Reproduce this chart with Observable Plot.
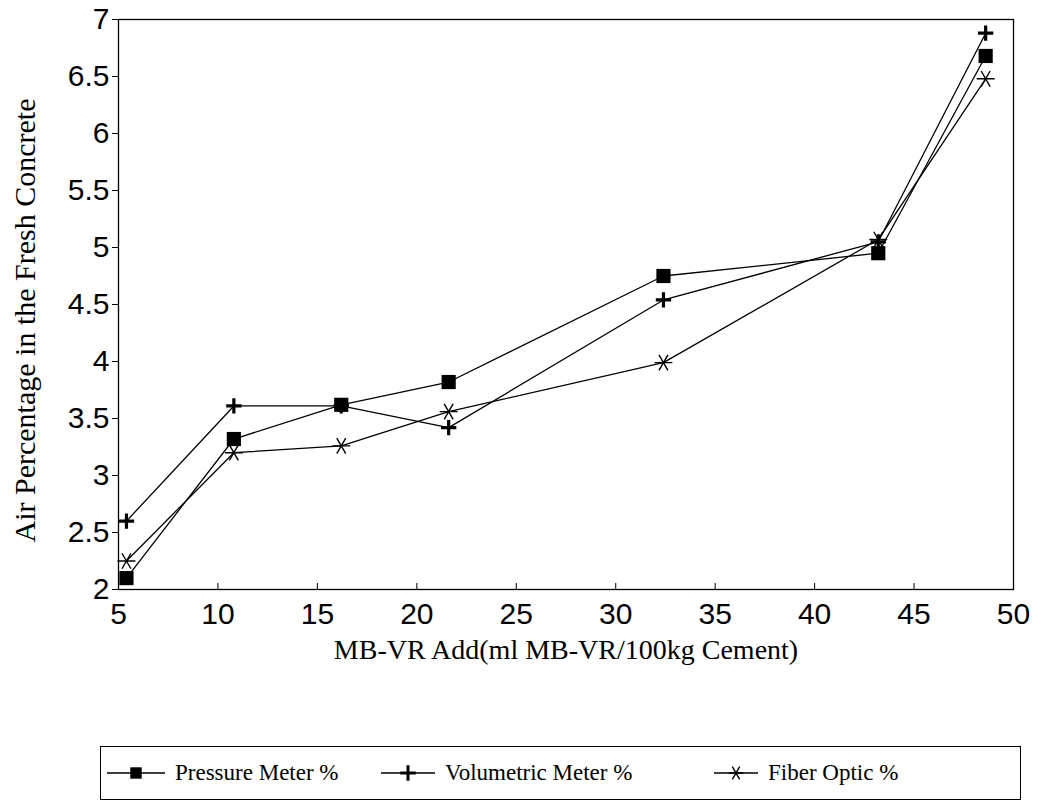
<!DOCTYPE html>
<html>
<head>
<meta charset="utf-8">
<script src="https://cdn.jsdelivr.net/npm/d3@7"></script>
<script src="https://cdn.jsdelivr.net/npm/@observablehq/plot@0.6"></script>
<style>
  html, body { margin: 0; padding: 0; background: #fff; }
  #wrap { position: relative; width: 1039px; height: 805px; overflow: hidden; }
  #legend { position: absolute; left: 100px; top: 746px; width: 921px; height: 54px;
    border: 1.2px solid #000; box-sizing: border-box; font-family: "Liberation Serif", serif;
    font-size: 23px; color: #000; }
  .item { position: absolute; top: 0; height: 100%; display: flex; align-items: center; }
  .item svg { margin-right: 10px; }
</style>
</head>
<body>
<div id="wrap"><div id="chart"></div><div id="legend"></div></div>
<script>
const xValues = [5.4, 10.8, 16.2, 21.6, 32.4, 43.2, 48.6];
const pressure = [2.1, 3.32, 3.62, 3.82, 4.75, 4.95, 6.68];
const volumetric = [2.6, 3.61, 3.61, 3.42, 4.54, 5.05, 6.88];
const fiber = [2.25, 3.2, 3.26, 3.56, 3.99, 5.07, 6.48];
const seriesNames = ["Pressure Meter %", "Volumetric Meter %", "Fiber Optic %"];
const xTicks = [5, 10, 15, 20, 25, 30, 35, 40, 45, 50];
const yTicks = [2, 2.5, 3, 3.5, 4, 4.5, 5, 5.5, 6, 6.5, 7];
const xTitle = "MB-VR Add(ml MB-VR/100kg Cement)";
const yTitle = "Air Percentage in the Fresh Concrete";

const rows = (vals, s) => xValues.map((x, i) => ({x, y: vals[i], s}));
const P = rows(pressure, seriesNames[0]);
const V = rows(volumetric, seriesNames[1]);
const F = rows(fiber, seriesNames[2]);

const sans = "Liberation Sans, Arial, sans-serif";
const serif = "Liberation Serif, Times New Roman, serif";

const chart = Plot.plot({
  width: 1039,
  height: 690,
  marginLeft: 118,
  marginRight: 26,
  marginTop: 19,
  marginBottom: 101,
  x: {domain: [5, 50]},
  y: {domain: [2, 7]},
  style: {background: "#fff", color: "#000"},
  marks: [
    Plot.frame({stroke: "#000", strokeWidth: 1.3}),
    Plot.axisY({ticks: yTicks, tickSize: 6, tickPadding: 3, fontSize: 30, fontFamily: sans, label: null, tickFormat: d => String(d)}),
    Plot.axisX({ticks: xTicks, tickSize: -6, tickFormat: () => "", label: null}),
    Plot.axisX({ticks: xTicks, tickSize: 0, tickPadding: 13, fontSize: 30, fontFamily: sans, label: null, tickFormat: d => String(d)}),
    Plot.text([xTitle], {frameAnchor: "bottom", dy: 61, lineAnchor: "middle", textAnchor: "middle", fontSize: 28, fontFamily: serif, fill: "#000"}),
    Plot.text([yTitle], {frameAnchor: "left", dx: -93, dy: 16, rotate: -90, textAnchor: "middle", lineAnchor: "middle", fontSize: 30, fontFamily: serif, fill: "#000"}),
    Plot.line(P, {x: "x", y: "y", stroke: "#000", strokeWidth: 1.3}),
    Plot.line(V, {x: "x", y: "y", stroke: "#000", strokeWidth: 1.3}),
    Plot.line(F, {x: "x", y: "y", stroke: "#000", strokeWidth: 1.3}),
    Plot.dot(P, {x: "x", y: "y", symbol: "square", r: 8, fill: "#000", stroke: null}),
    Plot.dot(V, {x: "x", y: "y", symbol: "plus", r: 5, stroke: "#000", strokeWidth: 3.2}),
    Plot.dot(F, {x: "x", y: "y", symbol: "asterisk", r: 8.5, rotate: 90, stroke: "#000", strokeWidth: 1.4})
  ]
});
document.getElementById("chart").appendChild(chart);

// legend
const legend = document.getElementById("legend");
const legendSymbols = [
  {sym: d3.symbolSquare, size: 130, fill: "#000", stroke: "none", sw: 0, w: 58},
  {sym: d3.symbolPlus, size: 80, fill: "none", stroke: "#000", sw: 3, w: 54},
  {sym: d3.symbolAsterisk, size: 150, fill: "none", stroke: "#000", sw: 1.4, rot: 90, w: 44}
];
const legendLefts = [6, 280, 613];
seriesNames.forEach((name, i) => {
  const it = document.createElement("div");
  it.className = "item";
  it.style.left = legendLefts[i] + "px";
  const s = legendSymbols[i];
  const svg = d3.create("svg").attr("width", s.w).attr("height", 24);
  svg.append("line").attr("x1", 0).attr("x2", s.w).attr("y1", 12).attr("y2", 12).attr("stroke", "#000").attr("stroke-width", 1.3);
  svg.append("path").attr("d", d3.symbol(s.sym, s.size)())
    .attr("transform", `translate(${s.w / 2},12) rotate(${s.rot || 0})`)
    .attr("fill", s.fill).attr("stroke", s.stroke).attr("stroke-width", s.sw);
  it.appendChild(svg.node());
  const t = document.createElement("span");
  t.textContent = name;
  it.appendChild(t);
  legend.appendChild(it);
});
</script>
</body>
</html>
